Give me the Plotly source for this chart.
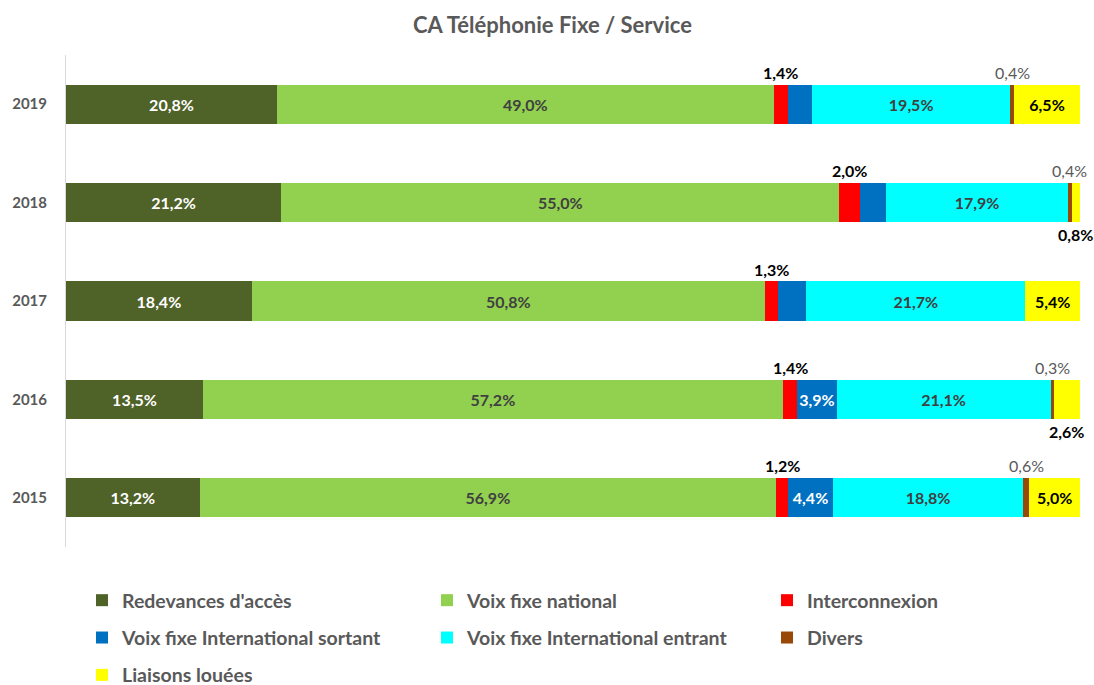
import plotly.graph_objects as go

# ---------------- data ----------------
years = ['2019', '2018', '2017', '2016', '2015']
series_names = ["Redevances d'accès", "Voix fixe national", "Interconnexion",
                "Voix fixe International sortant", "Voix fixe International entrant",
                "Divers", "Liaisons louées"]
redevances = [20.8, 21.2, 18.4, 13.5, 13.2]
national = [49.0, 55.0, 50.8, 57.2, 56.9]
interconnexion = [1.4, 2.0, 1.3, 1.4, 1.2]
sortant = [2.4, 2.6, 2.8, 3.9, 4.4]
entrant = [19.5, 17.9, 21.7, 21.1, 18.8]
divers = [0.4, 0.4, 0.0, 0.3, 0.6]
liaisons = [6.5, 0.8, 5.4, 2.6, 5.0]

values = [redevances, national, interconnexion, sortant, entrant, divers, liaisons]

# ---------------- styling ----------------
colors = ['#4F6228', '#92D050', '#FF0000', '#0070C0', '#00FFFF', '#984807', '#FFFF00']
text_colors = ['#FFFFFF', '#404040', '#000000', '#FFFFFF', '#404040', '#595959', '#000000']
# label placement per series / per year: 'in', 'above', 'below', 'none'
placement = [
    ['in'] * 5,
    ['in'] * 5,
    ['above'] * 5,
    ['below', 'below', 'below', 'in', 'in'],
    ['in'] * 5,
    ['above', 'above', 'none', 'above', 'above'],
    ['in', 'below', 'in', 'below', 'in'],
]
legend_of = ['legend', 'legend2', 'legend3', 'legend', 'legend2', 'legend3', 'legend']

FONT = 'Lato'
GRAY = '#595959'
LBL = 16


def fmt(v):
    return f"{v:.1f}".replace('.', ',') + '%'


fig = go.Figure()
for i, name in enumerate(series_names):
    texts = [fmt(v) if placement[i][j] == 'in' else '' for j, v in enumerate(values[i])]
    fig.add_trace(go.Bar(
        y=years, x=values[i], name=name, orientation='h',
        marker=dict(color=colors[i], line=dict(width=0)),
        text=texts, textposition='inside', insidetextanchor='middle', textangle=0,
        textfont=dict(family=FONT, size=LBL, color=text_colors[i], weight='bold'),
        legend=legend_of[i], legendgroup=name, hoverinfo='skip',
    ))

# outside labels as annotations (positions from normalized cumulative values;
# on a category axis the annotation y is the category index)
totals = [sum(values[i][j] for i in range(len(values))) for j in range(len(years))]
for j, yr in enumerate(years):
    cum = 0.0
    for i in range(len(values)):
        v = values[i][j]
        center = (cum + v / 2) / totals[j] * 100
        cum += v
        p = placement[i][j]
        if p in ('above', 'below'):
            fig.add_annotation(
                x=center, y=j, xref='x', yref='y', text=fmt(v), showarrow=False,
                yshift=32 if p == 'above' else -32,
                font=dict(family=FONT, size=LBL, color=text_colors[i],
                          weight='normal' if i == 5 else 'bold'),
            )

fig.update_layout(
    width=1094, height=685,
    barmode='stack', barnorm='percent', bargap=0.6,
    paper_bgcolor='white', plot_bgcolor='white',
    margin=dict(l=66, r=14, t=55, b=138, autoexpand=False),
    title=dict(text='<b>CA Téléphonie Fixe / Service</b>', x=0.505, xref='container',
               y=1 - 25 / 685, yanchor='middle',
               font=dict(family=FONT, size=22, color=GRAY)),
    xaxis=dict(range=[0, 100], visible=False, showgrid=False, zeroline=False),
    yaxis=dict(type='category', categoryorder='array', categoryarray=years,
               range=[len(years) - 0.5, -0.5],
               showline=True, linecolor='#D9D9D9', linewidth=1, showgrid=False,
               ticks='', ticklabelstandoff=15,
               tickfont=dict(family=FONT, size=15, color=GRAY, weight='bold')),
    showlegend=True,
    uniformtext=dict(minsize=LBL, mode='show'),
)
leg_common = dict(orientation='v', xref='container', yref='container',
                  xanchor='left', yanchor='top', tracegroupgap=9,
                  font=dict(family=FONT, size=19.5, color=GRAY, weight='bold'),
                  bgcolor='rgba(0,0,0,0)', itemclick=False, itemdoubleclick=False)
fig.update_layout(
    legend=dict(x=82 / 1094, y=1 - 581 / 685, **leg_common),
    legend2=dict(x=427 / 1094, y=1 - 581 / 685, **leg_common),
    legend3=dict(x=767 / 1094, y=1 - 581 / 685, **leg_common),
)

fig.write_html('out.html', config={'displayModeBar': False},
               post_script="document.body.style.margin='0';")
